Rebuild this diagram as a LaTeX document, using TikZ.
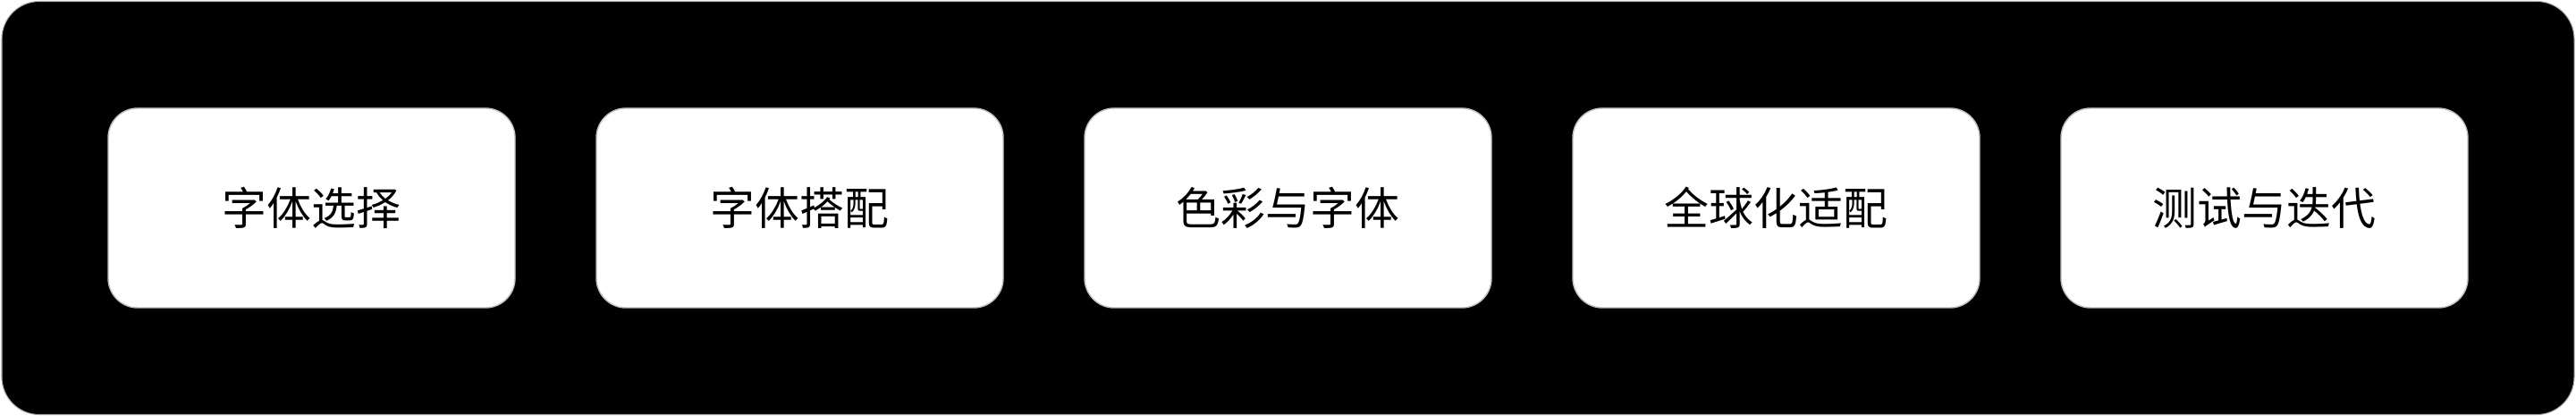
\documentclass[tikz,border=0pt]{standalone}
\usepackage{fontspec}
\newfontfamily\cjk{Noto Sans CJK SC}

\begin{document}
\begin{tikzpicture}
    % Define styles
    \tikzstyle{panel} = [rectangle, draw=gray!60, fill=black, rounded corners=0.42cm, minimum width=28.77cm, minimum height=4.62cm, line width=0.3pt]
    \tikzstyle{stage} = [rectangle, draw=gray!50, fill=white, rounded corners=0.33cm, minimum width=4.55cm, minimum height=2.23cm, line width=0.4pt, font=\cjk\fontsize{14.2}{17}\selectfont]

    \useasboundingbox (0,0) rectangle (28.81,4.65);

    % Background
    \node (panel) [panel] at (14.405,2.325) {};

    % Stages
    \node (select) [stage] at (3.485,2.325) {字体选择};
    \node (pairing) [stage] at (8.945,2.325) {字体搭配};
    \node (colour) [stage] at (14.405,2.325) {色彩与字体};
    \node (global) [stage] at (19.865,2.325) {全球化适配};
    \node (test) [stage] at (25.325,2.325) {测试与迭代};
\end{tikzpicture}
\end{document}
